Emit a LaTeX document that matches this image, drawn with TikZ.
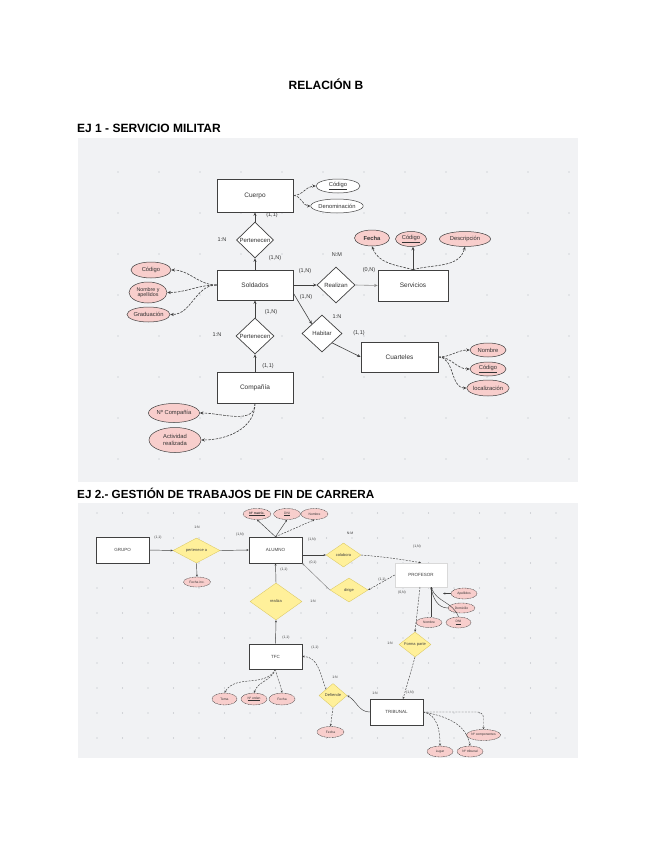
\documentclass[tikz,border=0pt]{standalone}
\usepackage{fontspec}
\setmainfont{Liberation Sans}
\usetikzlibrary{shapes.geometric,arrows.meta}
\definecolor{panelc}{HTML}{F1F2F4}
\definecolor{dotc}{HTML}{B4B7BC}
\definecolor{pinkc}{HTML}{F8CECC}
\definecolor{yelc}{HTML}{FFF09A}
\definecolor{yelb}{HTML}{D8C45A}
\definecolor{linec}{HTML}{404040}
\tikzset{
 hdr/.style={font=\fontsize{12}{14}\selectfont\bfseries, inner sep=0pt},
 entA/.style={draw=linec, fill=white, line width=0.7pt, font=\fontsize{6.5}{7}\selectfont, text=black!80, inner sep=0pt},
 relA/.style={diamond, draw=linec, fill=white, line width=0.7pt, font=\fontsize{6}{7}\selectfont, inner sep=0pt, text=black!80},
 attA/.style={ellipse, draw=linec, fill=pinkc, line width=0.5pt, font=\fontsize{5.8}{6.2}\selectfont, inner sep=0pt, text=black!80, align=center},
 attW/.style={attA, fill=white},
 cardA/.style={font=\fontsize{5.5}{6}\selectfont, text=black!80, inner sep=0pt},
 lnA/.style={draw=linec, line width=0.6pt, -{Stealth[length=3.5pt,width=3pt]}},
 dlnA/.style={lnA, dash pattern=on 2.5pt off 1.2pt},
 entB/.style={draw=linec, fill=white, line width=0.5pt, font=\fontsize{4.5}{5}\selectfont, text=black!75, inner sep=0pt},
 relB/.style={diamond, shape aspect=1.5, draw=yelb, fill=yelc, line width=0.3pt, font=\fontsize{4}{5}\selectfont, inner sep=0pt, text=black!75},
 attB/.style={ellipse, draw=linec, dash pattern=on 1pt off 0.6pt, fill=pinkc, line width=0.4pt, font=\fontsize{3.3}{4}\selectfont, inner sep=0pt, text=black!80},
 cardB/.style={font=\fontsize{3.5}{4}\selectfont, text=black!75, inner sep=0pt},
 lnB/.style={draw=linec, line width=0.45pt, -{Stealth[length=2.3pt,width=2pt]}},
 dlnB/.style={lnB, dash pattern=on 2pt off 1.2pt},
}
\begin{document}
\begin{tikzpicture}[x=1pt,y=-1pt]
\useasboundingbox (0,0) rectangle (655,848);
\fill[white] (0,0) rectangle (655,848);

% headings
\node[hdr] (title) at (326,84) {RELACIÓN B};
\node[hdr, anchor=west] (h1) at (77,128) {EJ 1 - SERVICIO MILITAR};
\node[hdr, anchor=west, font=\fontsize{11.7}{14}\selectfont\bfseries] (h2) at (77,493) {EJ 2.- GESTIÓN DE TRABAJOS DE FIN DE CARRERA};

% panels
\fill[panelc] (78,138) rectangle (578,482);
\fill[panelc] (78,503) rectangle (578,758);
\foreach \i in {0,...,11} \foreach \j in {0,...,7}
  \fill[dotc] (118+41*\i,172+41*\j) circle (0.7);
\foreach \i in {0,...,18} \foreach \j in {0,...,9}
  \fill[dotc] (97+25.5*\i,513+25*\j) circle (0.6);

% ================= EJ 1 =================
\node[entA, minimum width=76, minimum height=33] (cuerpo) at (255,195.5) {Cuerpo};
\node[attW, minimum width=44, minimum height=14] (ccod) at (338,186) {\underline{Código}};
\node[attW, minimum width=50, minimum height=14] (cden) at (337,206) {Denominación};
\draw[dlnA] (cuerpo.east) to[out=0,in=180] (ccod.west);
\draw[dlnA] (cuerpo.east) to[out=0,in=180] (cden.west);

\node[relA, minimum width=37, minimum height=36] (pert1) at (255,240) {Pertenecen};
\node[entA, minimum width=76, minimum height=30] (sold) at (255,285) {Soldados};
\draw[lnA] (pert1.north) -- (cuerpo.south);
\draw[lnA] (sold.north) -- (pert1.south);
\node[cardA] (l1) at (222,240) {1:N};
\node[cardA] (l2) at (272,215) {(1,1)};
\node[cardA] (l3) at (275,258) {(1,N)};

\node[attA, minimum width=40, minimum height=16] (scod) at (151,270) {Código};
\node[attA, minimum width=38, minimum height=21, font=\fontsize{5.3}{5.6}\selectfont] (snom) at (148,292.5) {Nombre y\\apellidos};
\node[attA, minimum width=43, minimum height=15] (sgra) at (148.5,314.5) {Graduación};
\draw[dlnA] (sold.west) to[out=180,in=0] (scod.east);
\draw[dlnA] (sold.west) to[out=180,in=0] (snom.east);
\draw[dlnA] (sold.west) to[out=180,in=0] (sgra.east);

\node[relA, minimum width=38, minimum height=36] (real) at (336,285) {Realizan};
\node[entA, minimum width=70, minimum height=31] (serv) at (413,285.5) {Servicios};
\draw[lnA] (sold.east) -- (real.west);
\draw[lnA, draw=black!45] (real.east) -- (serv.west);
\node[cardA] (l4) at (305,271) {(1,N)};
\node[cardA] (l5) at (306,297) {(1,N)};
\node[cardA] (l6) at (337,255) {N:M};
\node[cardA] (l7) at (369,270) {(0,N)};

\node[attA, minimum width=35, minimum height=16, font=\fontsize{5.8}{6}\selectfont\bfseries] (sfec) at (372,238) {Fecha};
\node[attA, minimum width=31, minimum height=15] (scod2) at (411,239) {\underline{Código}};
\node[attA, minimum width=51, minimum height=15] (sdes) at (465,239) {Descripción};
\draw[dlnA] (serv.north) to[out=165,in=-70] (sfec.south);
\draw[lnA, line width=1pt] (serv.north) -- (serv.north |- scod2.south);
\draw[dlnA] (serv.north) to[out=15,in=-105] (sdes.south);

\node[relA, minimum width=40, minimum height=37] (hab) at (322,333.5) {Habitar};
\node[entA, minimum width=77, minimum height=30] (cuar) at (399.5,357) {Cuarteles};
\draw[lnA] (sold.-12) -- (hab.north west);
\draw[lnA] (hab.south east) -- (cuar.west);
\node[cardA] (l8) at (337,317) {1:N};
\node[cardA] (l9) at (359,333) {(1,1)};

\node[attA, minimum width=36, minimum height=14] (cnom) at (488,350) {Nombre};
\node[attA, minimum width=36, minimum height=14] (ccod3) at (488,369) {\underline{Código}};
\node[attA, minimum width=36, minimum height=16] (cloc) at (488,388) {localización};
\draw[dlnA] (cuar.east) to[out=0,in=180] (cnom.west);
\draw[dlnA] (cuar.east) to[out=0,in=180] (ccod3.west);
\draw[dlnA] (cuar.east) to[out=0,in=180] (cloc.west);

\node[relA, minimum width=38, minimum height=36] (pert2) at (255,336) {Pertenecen};
\node[entA, minimum width=76, minimum height=31] (comp) at (255,387.5) {Compañía};
\draw[lnA] (pert2.north) -- (sold.south);
\draw[lnA] (comp.north) -- (pert2.south);
\node[cardA] (l10) at (217,335) {1:N};
\node[cardA] (l11) at (271,312) {(1,N)};
\node[cardA] (l12) at (268,366) {(1,1)};

\node[attA, minimum width=51, minimum height=19] (cnum) at (174,413) {Nº Compañía};
\node[attA, minimum width=52, minimum height=25] (cact) at (175,440) {Actividad\\realizada};
\draw[dlnA] (comp.south) to[out=-90,in=0] (cnum.east);
\draw[dlnA] (comp.south) to[out=-90,in=0] (cact.east);

% ================= EJ 2 =================
\node[entB, minimum width=53, minimum height=26] (grupo) at (122.5,550) {GRUPO};
\node[relB, minimum width=47, minimum height=25] (perta) at (196.5,550.5) {pertenece a};
\node[attB, minimum width=27, minimum height=10] (fech) at (197,582) {Fecha inc.};
\node[entB, minimum width=53, minimum height=26] (alumno) at (275.5,550) {ALUMNO};
\draw[line width=1pt, linec] (alumno.north east) -- (alumno.south east);
\draw[lnB] (grupo.east) -- (perta.west);
\draw[lnB] (perta.east) -- (alumno.west);
\draw[lnB] (perta.south) -- (fech.north);
\node[cardB] (m1) at (158,538) {(1,1)};
\node[cardB] (m2) at (197,527) {1:N};
\node[cardB] (m3) at (240,535) {(1,N)};

\node[attB, minimum width=28, minimum height=11, font=\fontsize{3.3}{4}\selectfont\bfseries] (amat) at (257,514) {\underline{Nº matríc.}};
\node[attB, minimum width=27, minimum height=11] (adni) at (287,514) {\underline{DNI}};
\node[attB, minimum width=27, minimum height=11] (anom) at (314.5,514) {Nombre};
\draw[lnB] (alumno.north) -- (amat.south);
\draw[lnB] (alumno.north) -- (adni.south);
\draw[dlnB] (alumno.north) -- (anom.south);

\node[relB, minimum width=52, minimum height=37] (realiza) at (276,601.5) {realiza};
\node[entB, minimum width=53, minimum height=25] (tfc) at (275.5,656.5) {TFC};
\draw[line width=1pt, linec] (tfc.north east) -- (tfc.south east);
\draw[lnB] (realiza.north) -- (alumno.south);
\draw[lnB] (tfc.north) -- (realiza.south);
\node[cardB] (m4) at (284,570) {(1,1)};
\node[cardB] (m5) at (313,601) {1:N};
\node[cardB] (m6) at (286,638) {(1,1)};
\node[cardB] (m7) at (315,648) {(1,1)};

\node[attB, minimum width=25, minimum height=12] (ttema) at (224.5,699) {Tema};
\node[attB, minimum width=26, minimum height=12] (tord) at (254,699) {\underline{Nº orden}};
\node[attB, minimum width=26, minimum height=12] (tfec) at (282,699) {Fecha};
\draw[dlnB] (tfc.south) to[out=-120,in=60] (ttema.north);
\draw[dlnB] (tfc.south) to[out=-110,in=70] (tord.north);
\draw[dlnB] (tfc.south) to[out=-80,in=100] (tfec.north);

\node[relB, minimum width=28, minimum height=24] (defi) at (333,695.5) {Defiende};
\node[attB, minimum width=27, minimum height=11] (dfec) at (330.5,732) {Fecha};
\node[entB, minimum width=53, minimum height=26] (trib) at (396.5,712) {TRIBUNAL};
\draw[dlnB] (defi.north west) to[out=110,in=0] (tfc.east);
\draw[lnB] (trib.west) to[out=180,in=-30] (defi.east);
\draw[dlnB] (defi.south) -- (dfec.north);
\node[cardB] (m8) at (335,677) {1:N};
\node[cardB] (m9) at (375,693) {1:N};
\node[cardB] (m10) at (410,693) {(1,N)};

\node[attB, minimum width=31, minimum height=11] (tcomp) at (483.5,735) {Nº componentes};
\node[attB, minimum width=26, minimum height=11] (tlug) at (440,751.5) {Lugar};
\node[attB, minimum width=26, minimum height=11] (tnum) at (470,751.5) {Nº tribunal};
\draw[dlnB, rounded corners=6pt] (trib.east) -| (tcomp.north);
\draw[dlnB] (trib.east) to[out=-10,in=90] (tlug.north);
\draw[dlnB] (trib.east) to[out=-10,in=100] (tnum.north);

\node[entB, draw=black!15, minimum width=52, minimum height=24] (prof) at (421,575) {PROFESOR};
\node[relB, minimum width=35, minimum height=24] (colab) at (343.5,555) {colabora};
\node[relB, minimum width=38, minimum height=24] (dirige) at (349,590) {dirige};
\draw[lnB] (alumno.east |- colab.west) -- (colab.west);
\draw[dlnB] (colab.east) to[out=-5,in=170] (prof.north);
\draw[lnB, draw=black!50] (dirige.west) -- (alumno.south east);
\draw[dlnB] (prof.west) -- (dirige.east);
\node[cardB] (m11) at (350,533) {N:M};
\node[cardB] (m12) at (312,540) {(1,N)};
\node[cardB] (m13) at (417,547) {(1,N)};
\node[cardB] (m14) at (313,563) {(0,1)};
\node[cardB] (m16) at (382,580) {(1,1)};
\node[cardB] (m17) at (402,593) {(0,N)};

\node[attB, minimum width=26, minimum height=11] (papel) at (464,593.5) {Apellidos};
\node[attB, minimum width=27, minimum height=10] (pdom) at (461.5,608) {Domicilio};
\node[attB, minimum width=25, minimum height=11] (pdni) at (458.5,622.5) {\underline{DNI}};
\node[attB, minimum width=26, minimum height=10] (pnom) at (429,622.5) {Nombre};
\coordinate (pb) at (431,587);
\coordinate (pa) at (443,593.5);
\draw[draw=linec, line width=0.45pt] (pb) -- (pb |- pnom.north);
\draw[lnB] (papel.west) -- (pa);
\draw[lnB] (pdom.west) to[out=180,in=-80] (pb);
\draw[lnB] (pdni.north) to[out=110,in=-70] (pb);

\node[relB, minimum width=32, minimum height=25] (forma) at (415,644.5) {Forma parte};
\coordinate (pf) at (420,587);
\coordinate (tt) at (403,699);
\draw[dlnB] (pf) -- (forma.north);
\draw[dlnB] (forma.south) -- (tt);
\node[cardB] (m18) at (390,643) {1:N};
\end{tikzpicture}
\end{document}
